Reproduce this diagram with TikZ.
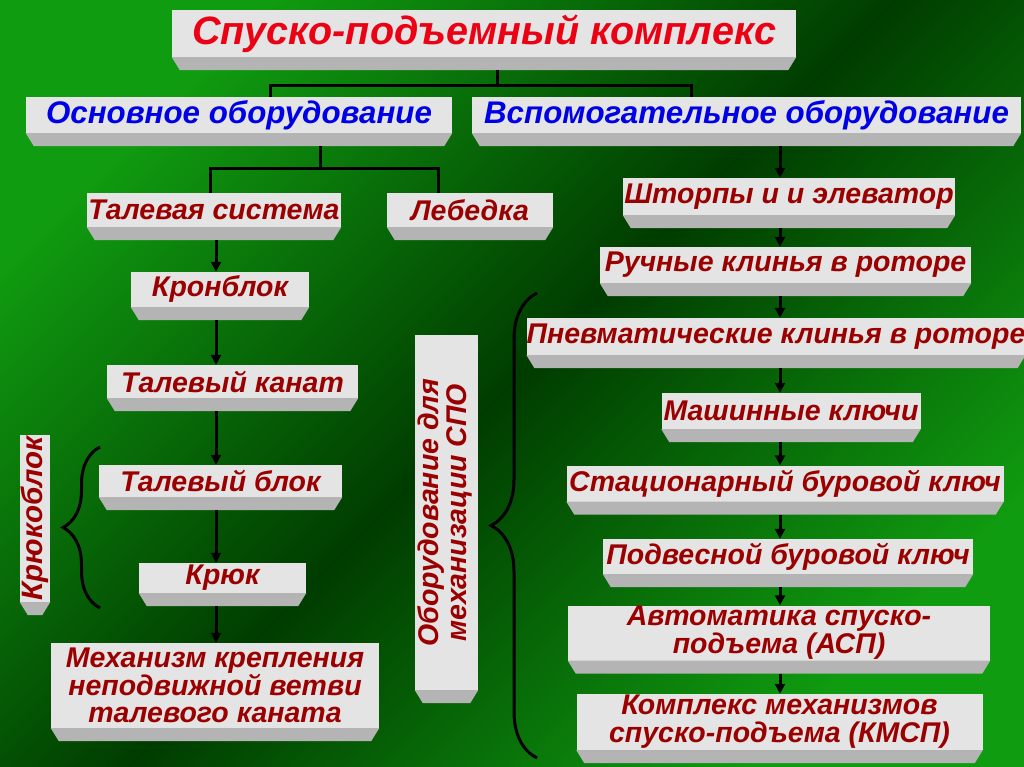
\documentclass[tikz,border=0pt]{standalone}
\usepackage{fontspec}
\setmainfont{Liberation Sans}
\usepackage{graphicx}
\usetikzlibrary{arrows.meta,decorations.pathreplacing,calc}

\definecolor{bglight}{RGB}{16,156,16}
\definecolor{bgdark}{RGB}{0,60,0}
\definecolor{marble}{RGB}{228,228,228}
\definecolor{slabside}{RGB}{180,180,180}
\definecolor{darkred}{RGB}{155,0,0}
\definecolor{titlered}{RGB}{235,0,20}
\definecolor{levelblue}{RGB}{0,0,230}

\tikzset{
  slab/.style={fill=marble, inner sep=0pt, align=center, text=darkred,
    font=\bfseries\itshape\fontsize{28.5}{27}\selectfont},
  wire/.style={line width=3pt},
  arr/.style={line width=3pt, -{Triangle[length=10pt,width=10pt]}},
  curly/.style={line width=3pt, decorate, decoration={brace, amplitude=#1}},
}
\newcommand{\slabfoot}[1]{\fill[slabside] (#1.south west) -- (#1.south east) -- ([xshift=-8pt,yshift=-13pt]#1.south east) -- ([xshift=8pt,yshift=-13pt]#1.south west) -- cycle;}

\begin{document}
\begin{tikzpicture}[x=1pt,y=-1pt]
\useasboundingbox (0,0) rectangle (1024,767);
\shade[top color=bglight, bottom color=bglight, middle color=bgdark, shading angle=45] (0,0) rectangle (1024,767);

% top levels
\node[slab, minimum width=624pt, minimum height=47pt, text=titlered,
  font=\bfseries\itshape\fontsize{39.5}{39}\selectfont] (title) at (484,33.5) {Спуско-подъемный комплекс};
\node[slab, minimum width=426pt, minimum height=36pt, text=levelblue,
  font=\bfseries\itshape\fontsize{31.3}{30}\selectfont] (osn) at (239,115) {Основное оборудование};
\node[slab, minimum width=549pt, minimum height=36pt, text=levelblue,
  font=\bfseries\itshape\fontsize{31.3}{30}\selectfont] (vsp) at (746.5,115) {Вспомогательное оборудование};

% left column
\node[slab, minimum width=254pt, minimum height=34pt] (talsys) at (214,210) {Талевая система};
\node[slab, minimum width=166pt, minimum height=34pt] (lebed) at (470,210) {Лебедка};
\node[slab, minimum width=178pt, minimum height=35pt] (kron) at (220,289.5) {Кронблок};
\node[slab, minimum width=251pt, minimum height=33pt] (kanat) at (232.5,381.5) {Талевый канат};
\node[slab, minimum width=243pt, minimum height=32pt] (tblok) at (220.5,481) {Талевый блок};
\node[slab, minimum width=167pt, minimum height=30pt] (kryuk) at (222.5,578) {Крюк};
\node[slab, minimum width=328pt, minimum height=85pt] (mekh) at (215,685.5) {Механизм крепления\\неподвижной ветви\\талевого каната};
\node[slab, minimum width=30pt, minimum height=167pt,
  font=\bfseries\itshape\fontsize{29.5}{29}\selectfont] (kblok) at (35,518.5) {\rotatebox{90}{Крюкоблок}};
\node[slab, minimum width=63pt, minimum height=355pt,
  font=\bfseries\itshape\fontsize{28.5}{28}\selectfont] (spo) at (446.5,512.5)
  {\rotatebox{90}{\begin{tabular}{@{}c@{}}Оборудование для\\механизации СПО\end{tabular}}};

% right column
\node[slab, minimum width=332pt, minimum height=37pt] (shtorp) at (789,196.5) {Шторпы и и элеватор};
\node[slab, minimum width=371pt, minimum height=36pt] (ruch) at (785.5,265) {Ручные клинья в роторе};
\node[slab, minimum width=496pt, minimum height=37pt] (pnevm) at (776,336.5) {Пневматические клинья в роторе};
\node[slab, minimum width=259pt, minimum height=36pt] (mash) at (791,411) {Машинные ключи};
\node[slab, minimum width=437pt, minimum height=36pt] (stac) at (785,483.5) {Стационарный буровой ключ};
\node[slab, minimum width=370pt, minimum height=35pt] (podv) at (788,556.5) {Подвесной буровой ключ};
\node[slab, minimum width=422pt, minimum height=55pt,
  font=\bfseries\itshape\fontsize{28.5}{28}\selectfont] (asp) at (779,633) {Автоматика спуско-\\подъема (АСП)};
\node[slab, minimum width=406pt, minimum height=56pt,
  font=\bfseries\itshape\fontsize{28.5}{28}\selectfont] (kmsp) at (779.5,722) {Комплекс механизмов\\спуско-подъема (КМСП)};

\foreach \s in {title,osn,vsp,talsys,lebed,kron,kanat,tblok,kryuk,mekh,kblok,spo,
  shtorp,ruch,pnevm,mash,stac,podv,asp,kmsp}
  \slabfoot{\s};

% branches
\coordinate (hubtop) at (497,86);
\coordinate (hubosn) at (320,169);
\draw[wire] ([yshift=-13pt]title.south -| hubtop) -- (hubtop);
\draw[wire] (hubtop) -| ([xshift=31pt]osn.north);
\draw[wire] (hubtop) -| ([xshift=-55pt]vsp.north);
\draw[wire] ([yshift=-13pt]osn.south -| hubosn) -- (hubosn);
\draw[wire] (hubosn) -| ([xshift=-4pt]talsys.north);
\draw[wire] (hubosn) -| ([xshift=-32pt]lebed.north);

% arrows
\coordinate (lspine) at (216,0);
\coordinate (rspine) at (780,0);
\foreach \a/\b in {talsys/kron,kron/kanat,kanat/tblok,tblok/kryuk,kryuk/mekh}
  \draw[arr] ([yshift=-13pt]\a.south -| lspine) -- (\b.north -| lspine);
\foreach \a/\b in {vsp/shtorp,shtorp/ruch,ruch/pnevm,pnevm/mash,mash/stac,stac/podv,podv/asp,asp/kmsp}
  \draw[arr] ([yshift=-13pt]\a.south -| rspine) -- (\b.north -| rspine);

% braces
\coordinate (kbtop) at (100,447);
\coordinate (kbbot) at (100,608);
\coordinate (spotop) at (537,293);
\coordinate (spobot) at (537,758);
\draw[curly=37pt] (kbbot) -- (kbtop);
\draw[curly=46pt] (spobot) -- (spotop);
\end{tikzpicture}
\end{document}
